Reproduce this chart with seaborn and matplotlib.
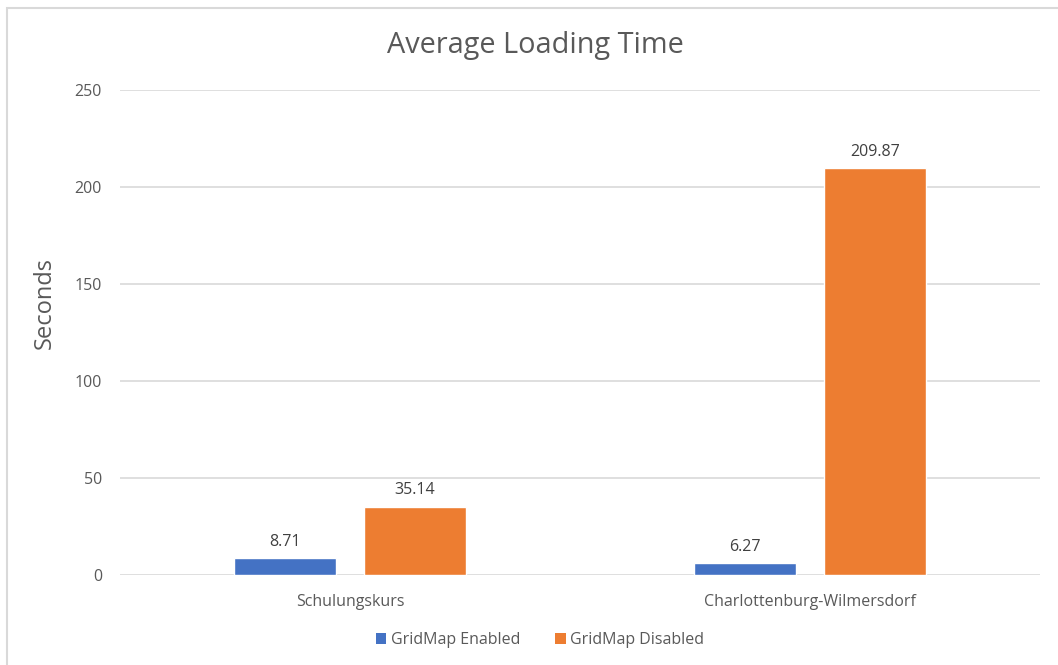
import matplotlib
matplotlib.use("Agg")
import matplotlib.pyplot as plt
from matplotlib.patches import Patch, Rectangle
import pandas as pd
import seaborn as sns

# Chart data
sites = ["Schulungskurs", "Charlottenburg-Wilmersdorf"]
modes = ["GridMap Enabled", "GridMap Disabled"]
enabled_seconds = [8.71, 6.27]
disabled_seconds = [35.14, 209.87]
y_ticks = [0, 50, 100, 150, 200, 250]

colors = ["#4472C4", "#ED7D31"]
text_gray = "#595959"
grid_gray = "#D9D9D9"

df = pd.DataFrame({
    "Site": sites * 2,
    "Mode": [modes[0]] * len(sites) + [modes[1]] * len(sites),
    "Seconds": enabled_seconds + disabled_seconds,
})

sns.set_theme(style="white")
plt.rcParams["font.family"] = ["Open Sans", "DejaVu Sans"]

W, H = 1058, 665
fig = plt.figure(figsize=(W / 100, H / 100), dpi=100)
ax = fig.add_axes([120 / W, (H - 575) / H, (1040 - 120) / W, (575 - 90) / H])

sns.barplot(data=df, x="Site", y="Seconds", hue="Mode", hue_order=modes,
            palette=colors, width=0.566, gap=0.215, saturation=1,
            legend=False, ax=ax)

for container in ax.containers:
    ax.bar_label(container, fmt="%.2f", padding=6, fontsize=11.5, color="#404040")

ax.set_ylim(0, 250)
ax.set_xlim(-0.5, 1.5)
ax.set_yticks(y_ticks)
ax.set_yticklabels([str(t) for t in y_ticks])
ax.yaxis.grid(True, color=grid_gray, linewidth=1.2)
ax.set_axisbelow(True)
for side in ["top", "right", "left", "bottom"]:
    ax.spines[side].set_visible(False)
ax.tick_params(axis="y", length=0, pad=13, labelsize=11.5, labelcolor=text_gray)
ax.tick_params(axis="x", length=0, pad=14, labelsize=11.5, labelcolor=text_gray)
ax.set_xlabel("")
ax.set_ylabel("")

fig.text(45 / W, (H - 303) / H, "Seconds", rotation=90, ha="center", va="center",
         fontsize=17, color=text_gray)
fig.text(535 / W, (H - 46) / H, "Average Loading Time", ha="center", va="center",
         fontsize=20.8, color=text_gray)

handles = [Patch(facecolor=c, edgecolor="none", label=m) for c, m in zip(colors, modes)]
fig.legend(handles=handles, loc="center", bbox_to_anchor=(540 / W, (H - 640) / H),
           ncol=2, frameon=False, fontsize=11.5, labelcolor=text_gray,
           handlelength=0.65, handleheight=0.65, handletextpad=0.3, columnspacing=2.2)

# Chart area outline
fig.add_artist(Rectangle((7 / W, -0.1), 1.2, (H - 8) / H + 0.1, transform=fig.transFigure,
                         fill=False, edgecolor=grid_gray, linewidth=1.5))

fig.savefig("out.png", dpi=100, facecolor="white")
